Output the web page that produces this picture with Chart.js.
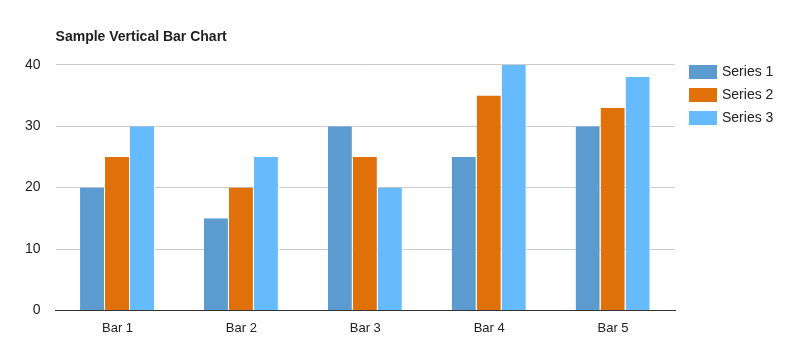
<!DOCTYPE html>
<html>
<head>
<meta charset="utf-8">
<script src="https://cdn.jsdelivr.net/npm/chart.js@4/dist/chart.umd.min.js"></script>
<style>
html,body{margin:0;padding:0;background:#fff;}
#wrap{width:797px;height:355px;position:relative;}
</style>
</head>
<body>
<div id="wrap"><canvas id="c" width="797" height="355"></canvas></div>
<script>
const categories = ['Bar 1','Bar 2','Bar 3','Bar 4','Bar 5'];
const series1 = [20,15,30,25,30];
const series2 = [25,20,25,35,33];
const series3 = [30,25,20,40,38];
const seriesNames = ['Series 1','Series 2','Series 3'];
const colors = ['#5b9bcf','#e0700a','#66bbff'];
const titleText = 'Sample Vertical Bar Chart';

const shiftTitle = {
  id:'shiftTitle',
  afterLayout(chart){
    const t = chart.titleBlock;
    if(t){ const w = t.right - t.left; t.left = chart.chartArea.left; t.right = t.left + w; }
  }
};

// legend drawn from the datasets, placed to the right of the plot
const sideLegend = {
  id:'sideLegend',
  afterDraw(chart){
    const ctx = chart.ctx;
    const x0 = chart.chartArea.right + 14;
    const y0 = Math.round(chart.chartArea.top);
    ctx.save();
    ctx.font = '14px "Liberation Sans", Arial';
    ctx.textBaseline = 'middle';
    ctx.textAlign = 'left';
    chart.data.datasets.forEach((ds,i)=>{
      const y = y0 + i*23;
      ctx.fillStyle = ds.backgroundColor;
      ctx.fillRect(x0, y, 28, 14);
      ctx.fillStyle = '#222';
      ctx.fillText(ds.label, x0 + 33, y + 7.5);
    });
    ctx.restore();
  }
};

const mk = (i,data)=>({label:seriesNames[i],data,backgroundColor:colors[i],borderColor:'#ffffff',
  borderWidth:{left:0,right:1,top:0,bottom:0},borderSkipped:false,
  barPercentage:1,categoryPercentage:0.605});

new Chart(document.getElementById('c'),{
  type:'bar',
  data:{labels:categories,datasets:[mk(0,series1),mk(1,series2),mk(2,series3)]},
  options:{
    responsive:false,animation:false,
    layout:{padding:{left:10,right:122,top:29,bottom:9}},
    plugins:{
      title:{display:true,text:titleText,align:'start',color:'#222',
        font:{family:'Liberation Sans, Arial',size:14,weight:'bold'},padding:{top:0,bottom:19}},
      legend:{display:false},
      tooltip:{enabled:false}
    },
    scales:{
      x:{grid:{display:false,drawTicks:false},border:{display:true,color:'#333',width:1},
        ticks:{color:'#222',padding:10,font:{family:'Liberation Sans, Arial',size:13}}},
      y:{min:0,max:40,grid:{color:'#cccccc',drawTicks:false},border:{display:false},
        ticks:{stepSize:10,color:'#222',padding:15,font:{family:'Liberation Sans, Arial',size:14}}}
    }
  },
  plugins:[shiftTitle, sideLegend]
});
</script>
</body>
</html>
